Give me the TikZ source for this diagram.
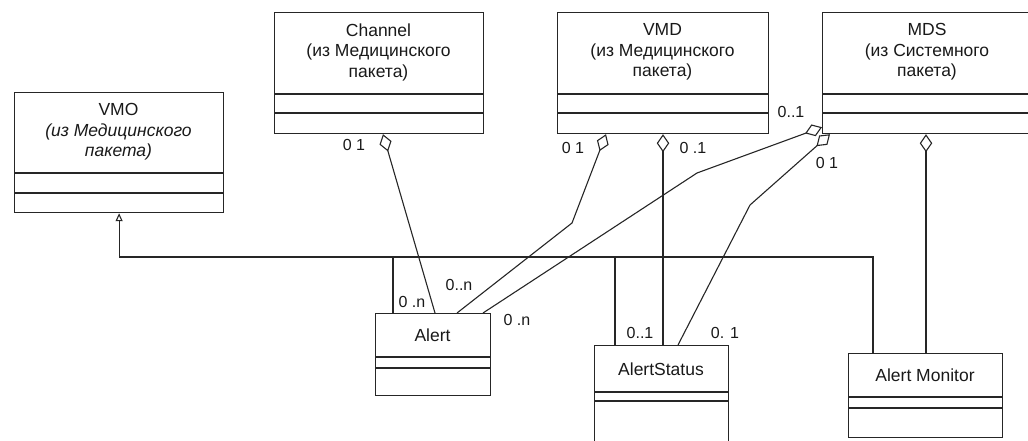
\documentclass[tikz,border=0pt]{standalone}
\usepackage{fontspec}
\setmainfont{Liberation Sans}
\usetikzlibrary{arrows.meta}
\begin{document}
\begin{tikzpicture}[x=1pt,y=-1pt,
  cls/.style={draw=black!85, line width=1.2pt, inner sep=0pt, anchor=north west},
  ln/.style={draw=black!85, line width=1.1pt},
  sep/.style={draw=black!85, line width=1.2pt},
  agg/.style={ln, -{Diamond[open, length=18pt, width=12.5pt]}},
  gen/.style={ln, -{Triangle[open, length=8pt, width=7pt]}},
  lbl/.style={font=\fontsize{16}{19}\selectfont, inner sep=0pt, text=black!90},
  ttl/.style={font=\fontsize{17.5}{20.5}\selectfont, align=center, inner sep=0pt, text=black!90}]
\useasboundingbox (0,0) rectangle (1028,440);
\clip (0,0) rectangle (1028,440);

% class boxes
\node[cls, minimum width=209pt, minimum height=120pt] (vmo) at (14,92) {};
\node[cls, minimum width=209pt, minimum height=121pt] (channel) at (274,12) {};
\node[cls, minimum width=211pt, minimum height=121pt] (vmd) at (557,12) {};
\node[cls, minimum width=210pt, minimum height=121pt] (mds) at (822,12) {};
\node[cls, minimum width=115pt, minimum height=82pt] (alert) at (375,313) {};
\node[cls, minimum width=134pt, minimum height=100pt] (status) at (594,345) {};
\node[cls, minimum width=154pt, minimum height=84pt] (amon) at (848,353) {};

% compartments
\foreach \n/\a/\b in {vmo/81/101, channel/82/101, vmd/82/101, mds/82/101, alert/44/55, status/47/56, amon/44/55}{
  \draw[sep] ([yshift=-\a pt]\n.north west) -- ([yshift=-\a pt]\n.north east);
  \draw[sep] ([yshift=-\b pt]\n.north west) -- ([yshift=-\b pt]\n.north east);
}

% titles
\node[ttl] (vmot) at (118.5,132) {VMO\\ \textit{(из Медицинского}\\ \textit{пакета)}};
\node[ttl] (channelt) at (378.5,52) {Channel\\ (из Медицинского\\ пакета)};
\node[ttl] (vmdt) at (662.5,52) {VMD\\ (из Медицинского\\ пакета)};
\node[ttl] (mdst) at (927,52) {MDS\\ (из Системного\\ пакета)};
\node[ttl] (alertt) at (432.5,335) {Alert};
\node[ttl] (statust) at (661,369) {AlertStatus};
\node[ttl] (amont) at (925,375) {Alert Monitor};

% generalization
\coordinate (bus) at (0,257);
\draw[gen] ([xshift=25pt]amon.north west) |- (bus -| vmo.south) -- (vmo.south);
\draw[ln] ([xshift=18pt]alert.north west) -- ([xshift=18pt]alert.north west |- bus);
\draw[ln] ([xshift=21pt]status.north west) -- ([xshift=21pt]status.north west |- bus);

% aggregations
\coordinate (b1) at (572,223);
\coordinate (b2) at (697,173);
\coordinate (b3) at (750,205);
\draw[agg] ([xshift=60pt]alert.north west) -- ([xshift=109pt]channel.south west);
\draw[agg] ([xshift=82pt]alert.north west) -- (b1) -- ([xshift=49pt]vmd.south west);
\draw[agg] ([xshift=69pt]status.north west) -- ([xshift=106pt]vmd.south west);
\draw[agg] ([xshift=108pt]alert.north west) -- (b2) -- ([yshift=7pt]mds.south west);
\draw[agg] ([xshift=84pt]status.north west) -- (b3) -- ([xshift=8pt]mds.south west);
\draw[agg] ([xshift=78pt]amon.north west) -- ([xshift=104pt]mds.south west);

% multiplicities
\node[lbl] (m1) at (354,145) {0 1};
\node[lbl] (m2) at (573,148) {0 1};
\node[lbl] (m3) at (693,148) {0 .1};
\node[lbl] (m4) at (791,112) {0..1};
\node[lbl] (m5) at (827,163) {0 1};
\node[lbl] (m6) at (412,302) {0 .n};
\node[lbl] (m7) at (459,285) {0..n};
\node[lbl] (m8) at (517,320) {0 .n};
\node[lbl] (m9) at (640,333) {0..1};
\node[lbl] (m10) at (725,333) {0. 1};
\end{tikzpicture}
\end{document}
